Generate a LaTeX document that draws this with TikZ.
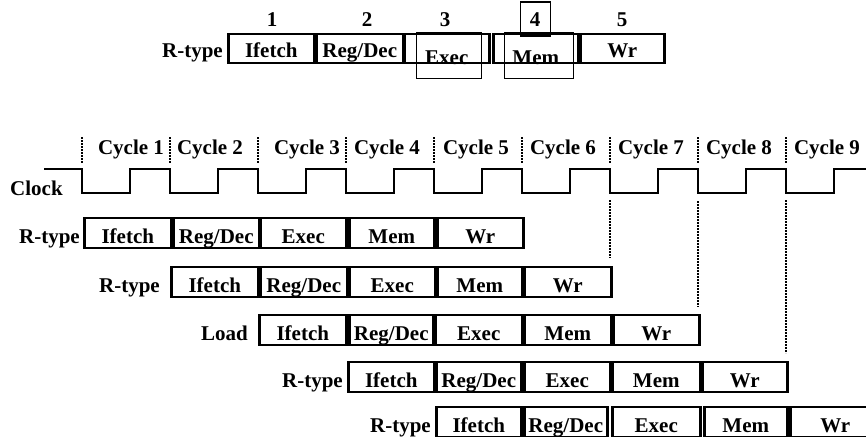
\documentclass[tikz,border=0pt]{standalone}
\usepackage{fontspec}
\setmainfont{Liberation Serif}
\begin{document}
\begin{tikzpicture}[x=1pt,y=-1pt,
  fnt/.style={font=\fontsize{21}{25}\selectfont\bfseries},
  stage/.style={fnt, draw, line width=2.6pt, inner sep=0pt, text height=25pt, text depth=5pt, anchor=base west},
  topstage/.style={stage, text height=24pt},
  lbl/.style={fnt, inner sep=0pt, anchor=base east},
  txt/.style={fnt, inner sep=0pt, anchor=base},
  hl/.style={draw, line width=1.3pt, inner sep=0pt, anchor=north west},
  dots/.style={line width=2.4pt, dash pattern=on 1.6pt off 1.4pt},
  clk/.style={line width=2.2pt}]
\useasboundingbox (0,0) rectangle (866,436);
\clip (0,0) rectangle (866,436);

% ---- top single instruction ----
\node[txt] (n1) at (272,27) {1};
\node[txt] (n2) at (367,27) {2};
\node[txt] (n3) at (445,27) {3};
\node[txt] (n4) at (535,27) {4};
\node[txt] (n5) at (622,27) {5};
\node[hl, minimum width=30pt, minimum height=34pt] (box4) at (520,1.5) {};
\node[lbl] (tl) at (223,58) {R-type};
\node[topstage, minimum width=86pt] (t1) at (227,58) {Ifetch};
\node[topstage, minimum width=87pt] (t2) at (315,58) {Reg/Dec};
\node[topstage, minimum width=85pt] (t3) at (403,58) {\raisebox{-6pt}{Exec}};
\node[topstage, minimum width=85pt] (t4) at (492,58) {\raisebox{-6pt}{Mem}};
\node[topstage, minimum width=84pt] (t5) at (579,58) {Wr};
\node[hl, minimum width=65pt, minimum height=46pt] (h3) at (416,32) {};
\node[hl, minimum width=69pt, minimum height=46pt] (h4) at (504,32) {};

% ---- cycles and clock ----
\foreach \k/\cx in {1/131,2/210,3/307,4/387,5/476,6/563,7/651,8/739,9/827}
  \node[txt] (cyc\k) at (\cx,154) {Cycle \k};
\foreach \k in {0,...,8}
  \draw[dots] ({82+88*\k},137) -- ({82+88*\k},163);
\node[fnt, inner sep=0pt, anchor=base west] (clock) at (10,195) {Clock};
\draw[clk] (44,169) foreach \k in {0,...,8} {
   -- ({82+88*\k},169) -- ({82+88*\k},193) -- ({130+88*\k},193) -- ({130+88*\k},169) } -- (870,169);
\draw[dots] (610,200) -- (610,258);
\draw[dots] (698,201) -- (698,307);
\draw[dots] (786,200) -- (786,353);

% ---- row 1 ----
\node[lbl] (la) at (80,243) {R-type};
\node[stage, minimum width=87pt] (a1) at (83,243) {Ifetch};
\node[stage, minimum width=86pt] (a2) at (172,243) {Reg/Dec};
\node[stage, minimum width=86pt] (a3) at (259,243) {Exec};
\node[stage, minimum width=85pt] (a4) at (348,243) {Mem};
\node[stage, minimum width=86pt] (a5) at (436,243) {Wr};
% ---- row 2 ----
\node[lbl] (lb) at (160,292) {R-type};
\node[stage, minimum width=87pt] (b1) at (170,292) {Ifetch};
\node[stage, minimum width=87pt] (b2) at (259,292) {Reg/Dec};
\node[stage, minimum width=86pt] (b3) at (348,292) {Exec};
\node[stage, minimum width=85pt] (b4) at (436,292) {Mem};
\node[stage, minimum width=87pt] (b5) at (523,292) {Wr};
% ---- row 3 ----
\node[lbl] (lc) at (248,340) {Load};
\node[stage, minimum width=87pt] (c1) at (258,340) {Ifetch};
\node[stage, minimum width=84pt] (c2) at (348,340) {Reg/Dec};
\node[stage, minimum width=87pt] (c3) at (434,340) {Exec};
\node[stage, minimum width=87pt] (c4) at (523,340) {Mem};
\node[stage, minimum width=86pt] (c5) at (612,340) {Wr};
% ---- row 4 ----
\node[lbl] (ld) at (343,387) {R-type};
\node[stage, minimum width=86pt] (d1) at (347,387) {Ifetch};
\node[stage, minimum width=85pt] (d2) at (435,387) {Reg/Dec};
\node[stage, minimum width=86pt] (d3) at (523,387) {Exec};
\node[stage, minimum width=88pt] (d4) at (611,387) {Mem};
\node[stage, minimum width=85pt] (d5) at (701,387) {Wr};
% ---- row 5 ----
\node[lbl] (le) at (431,432) {R-type};
\node[stage, minimum width=85pt] (e1) at (435,432) {Ifetch};
\node[stage, minimum width=83pt] (e2) at (523,432) {Reg/Dec};
\node[stage, minimum width=88pt] (e3) at (611,432) {Exec};
\node[stage, minimum width=83pt] (e4) at (703,432) {Mem};
\node[stage, minimum width=90pt] (e5) at (789,432) {Wr};
\end{tikzpicture}
\end{document}
